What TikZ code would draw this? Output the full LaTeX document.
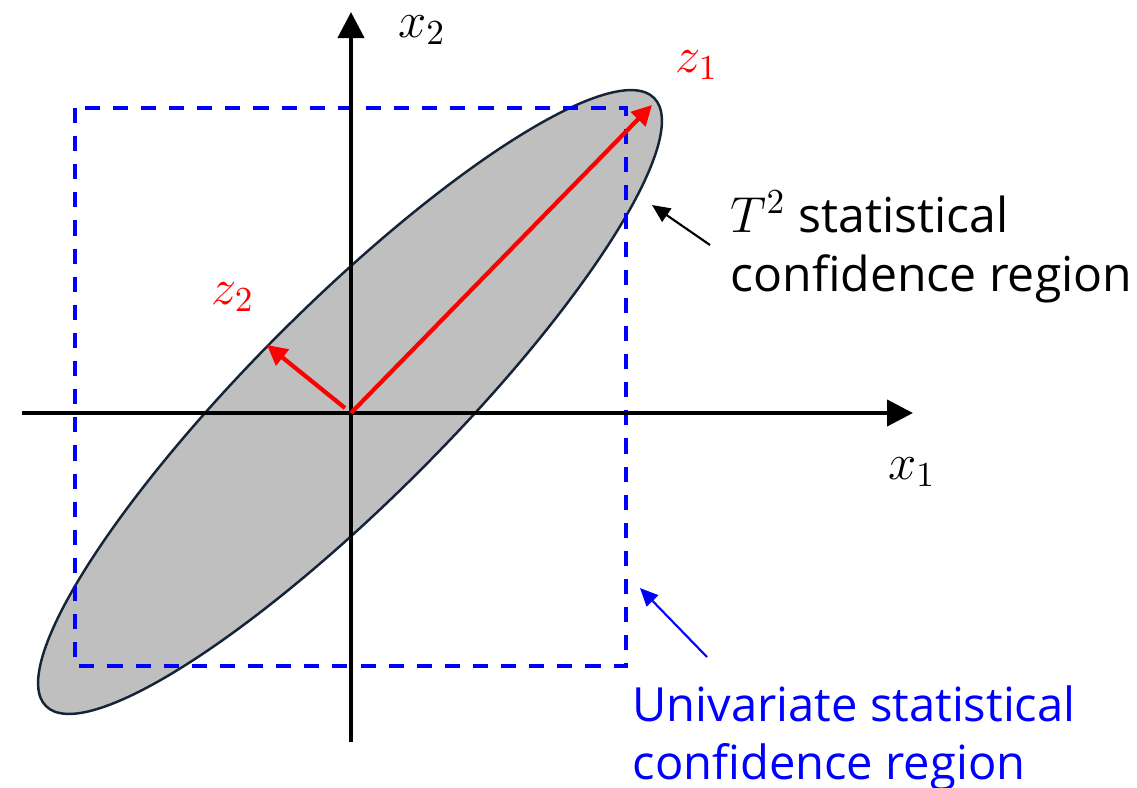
\documentclass[tikz,border=0pt]{standalone}
\usepackage{fontspec}
\setmainfont{Open Sans}
\usetikzlibrary{arrows.meta}
\definecolor{ellgray}{RGB}{191,191,191}
\definecolor{ellline}{RGB}{22,36,56}
\definecolor{uniblue}{RGB}{0,0,255}

\begin{document}
\begin{tikzpicture}[every node/.style={font=\fontsize{13.7}{16.8}\selectfont},
   mathlab/.style={font=\fontsize{14.5}{17}\selectfont},
   axis/.style={line width=1.2pt,-{Triangle[length=2.6mm,width=2.6mm]}},
   pcvec/.style={red,line width=1.2pt,-{Triangle[length=2mm,width=2mm]}},
   note/.style={line width=0.6pt,-{Triangle[length=1.8mm,width=1.6mm]}}]
  \useasboundingbox (-3.51,-3.74) rectangle (7.86,4.13);
  % T^2 ellipse and univariate box
  \draw[fill=ellgray,draw=ellline,line width=0.7pt,rotate around={45:(-0.01,0.11)}]
    (-0.01,0.11) ellipse (4.30 and 0.98);
  \draw[uniblue,line width=1.1pt,dash pattern=on 4.3pt off 3.7pt]
    (-2.76,3.05) rectangle (2.75,-2.53);
  % axes
  \coordinate (O) at (0,0);
  \coordinate (xa) at (-3.29,0); \coordinate (xb) at (5.62,0);
  \coordinate (ya) at (0,-3.29); \coordinate (yb) at (0,4.01);
  \draw[axis] (xa)--(xb);
  \draw[axis] (ya)--(yb);
  \node[mathlab] (xlab1) at (5.61,-0.59) {$x_1$};
  \node[mathlab] (xlab2) at (0.71,3.83) {$x_2$};
  % principal directions
  \coordinate (z1end) at (3.01,3.08);
  \coordinate (z2beg) at (-0.06,0.05); \coordinate (z2end) at (-0.84,0.68);
  \draw[pcvec] (O)--(z1end);
  \draw[pcvec] (z2beg)--(z2end);
  \node[mathlab,red] (zlab1) at (3.46,3.48) {$z_1$};
  \node[mathlab,red] (zlab2) at (-1.18,1.16) {$z_2$};
  % annotations
  \node[anchor=west,align=left,inner sep=0pt] (tlab) at (3.79,1.66)
    {$T^2$ statistical\\confidence region};
  \node[uniblue,anchor=west,align=left,inner sep=0pt,
        font=\fontsize{13.4}{16.6}\selectfont] (ulab) at (2.81,-3.25)
    {Univariate statistical\\confidence region};
  \coordinate (tnote) at (3.59,1.68); \coordinate (tedge) at (3.01,2.08);
  \coordinate (unote) at (3.56,-2.44); \coordinate (uedge) at (2.89,-1.75);
  \draw[note] (tnote)--(tedge);
  \draw[note,uniblue] (unote)--(uedge);
 \end{tikzpicture}
\end{document}
